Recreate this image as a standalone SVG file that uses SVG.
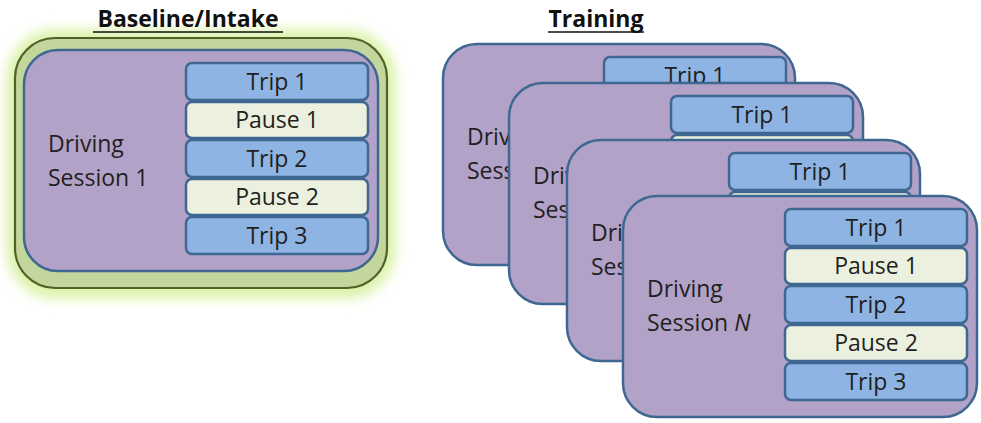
<svg xmlns="http://www.w3.org/2000/svg" width="981" height="423" viewBox="0 0 981 423">
  <defs>
    <filter id="glow" x="-20%" y="-20%" width="140%" height="140%">
      <feGaussianBlur stdDeviation="6"/>
    </filter>
  </defs>
  <style>
    .title { font-family: "Open Sans", "Liberation Sans", sans-serif; font-size: 23px; font-weight: bold; fill: #111; }
    .uline { stroke: #111; stroke-width: 1.6; }
    .panel { fill: #B3A2C7; stroke: #3E6792; stroke-width: 2.5; }
    .trip { fill: #8EB4E3; stroke: #3E6792; stroke-width: 2.5; }
    .pause { fill: #EBF1DE; stroke: #3E6792; stroke-width: 2.5; }
    .lbl { font-family: "Open Sans", "Liberation Sans", sans-serif; font-size: 23px; fill: #1f1f1f; }
    .box-t { font-family: "Open Sans", "Liberation Sans", sans-serif; font-size: 23px; fill: #1f1f1f; text-anchor: middle; }
  </style>

  <!-- Baseline/Intake: highlighted container with one session -->
  <g id="baseline-container">
    <rect x="6" y="29" width="390" height="270" rx="50" fill="#DDF3AC" filter="url(#glow)"/>
    <rect x="15" y="38" width="372" height="250" rx="40" fill="#C3D69B" stroke="#4F6228" stroke-width="2.2"/>
  </g>

  <!-- section headings -->
  <g id="heading-baseline">
    <text class="title" x="188" y="27" text-anchor="middle">Baseline/Intake</text>
    <line class="uline" x1="93" y1="32" x2="283" y2="32"/>
  </g>
  <g id="heading-training">
    <text class="title" x="596" y="27" text-anchor="middle">Training</text>
    <line class="uline" x1="548" y1="32" x2="644" y2="32"/>
  </g>

  <g id="session-1" transform="translate(24,50)">
    <rect class="panel" x="0" y="0" width="354" height="221" rx="34"/>
    <text class="lbl" x="24" y="102">Driving</text>
    <text class="lbl" x="24" y="136">Session 1</text>
    <rect class="trip" x="162" y="13" width="182" height="37" rx="6"/>
    <text class="box-t" x="253" y="40">Trip 1</text>
    <rect class="pause" x="162" y="52" width="182" height="36" rx="6"/>
    <text class="box-t" x="253" y="78">Pause 1</text>
    <rect class="trip" x="162" y="90" width="182" height="37" rx="6"/>
    <text class="box-t" x="253" y="117">Trip 2</text>
    <rect class="pause" x="162" y="129" width="182" height="36" rx="6"/>
    <text class="box-t" x="253" y="155">Pause 2</text>
    <rect class="trip" x="162" y="167" width="182" height="37" rx="6"/>
    <text class="box-t" x="253" y="194">Trip 3</text>
  </g>

  <!-- Training: stacked sessions, back to front -->
  <g id="training-session-a" transform="translate(443,44)">
    <rect class="panel" x="0" y="0" width="352" height="221" rx="34"/>
    <text class="lbl" x="24" y="101">Driving</text>
    <text class="lbl" x="24" y="135">Session</text>
    <rect class="trip" x="161" y="13" width="182" height="37" rx="6"/>
    <text class="box-t" x="252" y="40">Trip 1</text>
  </g>
  <g id="training-session-b" transform="translate(509,83)">
    <rect class="panel" x="0" y="0" width="354" height="221" rx="34"/>
    <text class="lbl" x="24" y="101">Driving</text>
    <text class="lbl" x="24" y="135">Session</text>
    <rect class="trip" x="162" y="13" width="182" height="37" rx="6"/>
    <text class="box-t" x="253" y="40">Trip 1</text>
    <rect class="pause" x="162" y="52" width="182" height="36" rx="6"/>
  </g>
  <g id="training-session-c" transform="translate(567,140)">
    <rect class="panel" x="0" y="0" width="353" height="221" rx="34"/>
    <text class="lbl" x="24" y="101">Driving</text>
    <text class="lbl" x="24" y="135">Session</text>
    <rect class="trip" x="162" y="13" width="182" height="37" rx="6"/>
    <text class="box-t" x="253" y="40">Trip 1</text>
    <rect class="pause" x="162" y="52" width="182" height="36" rx="6"/>
  </g>
  <g id="training-session-n" transform="translate(623,196)">
    <rect class="panel" x="0" y="0" width="354" height="221" rx="34"/>
    <text class="lbl" x="24" y="101">Driving</text>
    <text class="lbl" x="24" y="135">Session <tspan font-style="italic">N</tspan></text>
    <rect class="trip" x="162" y="13" width="182" height="37" rx="6"/>
    <text class="box-t" x="253" y="40">Trip 1</text>
    <rect class="pause" x="162" y="52" width="182" height="36" rx="6"/>
    <text class="box-t" x="253" y="78">Pause 1</text>
    <rect class="trip" x="162" y="90" width="182" height="37" rx="6"/>
    <text class="box-t" x="253" y="117">Trip 2</text>
    <rect class="pause" x="162" y="129" width="182" height="36" rx="6"/>
    <text class="box-t" x="253" y="155">Pause 2</text>
    <rect class="trip" x="162" y="167" width="182" height="37" rx="6"/>
    <text class="box-t" x="253" y="194">Trip 3</text>
  </g>
</svg>
